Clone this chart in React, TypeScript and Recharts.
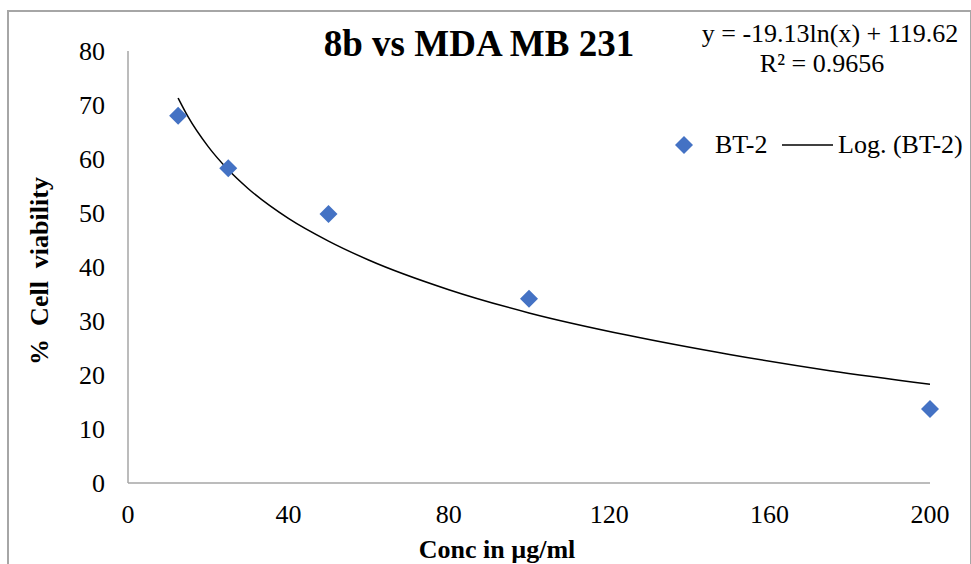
import React from 'react';
import {
  ComposedChart,
  Scatter,
  Line,
  XAxis,
  YAxis
} from 'recharts';

// measured viability points (conc in µg/ml)
const concValues = [12.5, 25, 50, 100, 200];
const viabilityValues = [68.0, 58.3, 49.8, 34.1, 13.7];

// logarithmic trend line
const trendConc = [12.5, 15, 20, 25, 30, 40, 50, 60, 80, 100, 125, 150, 175, 200];
const trendValues = [71.3, 67.8, 62.3, 58.0, 54.5, 49.0, 44.8, 41.3, 35.8, 31.5, 27.3, 23.8, 20.8, 18.3];

const xTicks = [0, 40, 80, 120, 160, 200];
const yTicks = [0, 10, 20, 30, 40, 50, 60, 70, 80];

const chartTitle = '8b vs MDA MB 231';
const equationText = 'y = -19.13ln(x) + 119.62';
const r2Text = 'R² = 0.9656';
const xTitle = 'Conc in µg/ml';
const yTitle = '%  Cell  viability';
const seriesName = 'BT-2';
const trendName = 'Log. (BT-2)';

const points = concValues.map((c, i) => ({ conc: c, viability: viabilityValues[i] }));
const trend = trendConc.map((c, i) => ({ conc: c, viability: trendValues[i] }));

const FONT = '"Liberation Serif", "Times New Roman", serif';
const BLUE = '#4472C4';
const AXIS = '#a6a6a6';

const Diamond = (props: any) => {
  const { cx, cy } = props;
  const r = 9;
  return (
    <polygon
      points={`${cx},${cy - r} ${cx + r},${cy} ${cx},${cy + r} ${cx - r},${cy}`}
      fill={BLUE}
    />
  );
};

export default function App() {
  return (
    <div style={{ position: 'absolute', left: 0, top: 0, width: 971, height: 564, overflow: 'hidden', background: '#fff' }}>
      <div
        style={{
          position: 'absolute',
          left: 7,
          top: 10,
          width: 961,
          height: 600,
          border: `2px solid ${AXIS}`
        }}
      />
      <div style={{ position: 'absolute', left: 0, top: 0 }}>
        <ComposedChart
          width={971}
          height={564}
          margin={{ top: 51, right: 41, left: 0, bottom: 0 }}
          style={{ fontFamily: FONT }}
        >
          <XAxis
            dataKey="conc"
            type="number"
            domain={[0, 200]}
            ticks={xTicks}
            height={81}
            tickLine={false}
            tickSize={0}
            tickMargin={22}
            axisLine={{ stroke: AXIS, strokeWidth: 1.5 }}
            tick={{ fill: '#000', fontSize: 26, fontFamily: FONT }}
          />
          <YAxis
            dataKey="viability"
            type="number"
            domain={[0, 80]}
            ticks={yTicks}
            width={128}
            tickLine={false}
            tickSize={0}
            tickMargin={23}
            axisLine={{ stroke: AXIS, strokeWidth: 1.5 }}
            tick={{ fill: '#000', fontSize: 26, fontFamily: FONT }}
          />
          <Line
            data={trend}
            dataKey="viability"
            type="monotone"
            stroke="#000"
            strokeWidth={1.5}
            dot={false}
            activeDot={false}
            isAnimationActive={false}
          />
          <Scatter
            data={points}
            dataKey="viability"
            fill={BLUE}
            shape={Diamond}
            isAnimationActive={false}
          />
        </ComposedChart>
      </div>
      <svg
        width={971}
        height={564}
        style={{ position: 'absolute', left: 0, top: 0, pointerEvents: 'none', fontFamily: FONT }}
      >
        <text x={479} y={56} textAnchor="middle" fontSize={37} fontWeight="bold" fill="#000">
          {chartTitle}
        </text>
        <text x={830} y={42} textAnchor="middle" fontSize={26} fill="#000">
          {equationText}
        </text>
        <text x={822} y={72} textAnchor="middle" fontSize={26} fill="#000">
          {r2Text}
        </text>
        {/* legend */}
        <polygon points="684,136 693,145 684,154 675,145" fill={BLUE} />
        <text x={715} y={153} fontSize={26} fill="#000">{seriesName}</text>
        <line x1={782} y1={145} x2={833} y2={145} stroke="#000" strokeWidth={1.5} />
        <text x={838} y={153} fontSize={26} fill="#000">{trendName}</text>
        <text x={497} y={558} textAnchor="middle" fontSize={26} fontWeight="bold" fill="#000">
          {xTitle}
        </text>
        <text
          x={0}
          y={0}
          transform="translate(48,271) rotate(-90)"
          textAnchor="middle"
          fontSize={26}
          fontWeight="bold"
          fill="#000"
          style={{ whiteSpace: 'pre' }}
        >
          {yTitle}
        </text>
      </svg>
    </div>
  );
}
